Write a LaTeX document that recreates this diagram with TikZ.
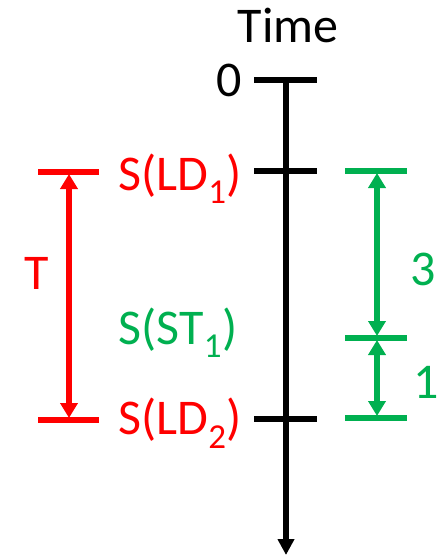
\documentclass[tikz,border=0pt]{standalone}
\usepackage{fontspec}
\setmainfont{Carlito}
\usetikzlibrary{arrows.meta}
\definecolor{myred}{RGB}{255,0,0}
\definecolor{mygreen}{RGB}{0,176,80}

\tikzset{
  lbl/.style={inner sep=0pt, anchor=base, font=\fontsize{50}{58}\selectfont},
  tickline/.style={line width=5.5pt},
  dimline/.style={line width=5.5pt, {Triangle[width=17pt,length=15pt]}-{Triangle[width=17pt,length=15pt]}, shorten <=2pt, shorten >=2pt},
}

\begin{document}
\begin{tikzpicture}[x=1pt,y=-1pt]
  \useasboundingbox (0,0) rectangle (440,556);

  % time axis
  \coordinate (top) at (286,80);
  \coordinate (bot) at (286,555);
  \draw[line width=5.5pt, -{Triangle[width=16pt,length=16pt]}] (top) -- (bot);
  \node[lbl] (time) at (288,43) {Time};

  % ticks on the axis
  \coordinate (t0l) at (254,80);  \coordinate (t0r) at (317,80);
  \coordinate (t1l) at (254,171); \coordinate (t1r) at (317,171);
  \coordinate (t2l) at (254,419); \coordinate (t2r) at (317,419);
  \draw[tickline] (t0l) -- (t0r);
  \draw[tickline] (t1l) -- (t1r);
  \draw[tickline] (t2l) -- (t2r);
  \node[lbl] (zero) at (229,97) {0};
  \node[lbl, text=myred] (ld1) at (180,190) {S(LD\textsubscript{1})};
  \node[lbl, text=mygreen] (st1) at (178,344) {S(ST\textsubscript{1})};
  \node[lbl, text=myred] (ld2) at (180,434) {S(LD\textsubscript{2})};

  % period T
  \coordinate (ra) at (69,172);  \coordinate (ral) at (38,172); \coordinate (rar) at (99,172);
  \coordinate (rb) at (69,420);  \coordinate (rbl) at (38,420); \coordinate (rbr) at (99,420);
  \draw[tickline, myred] (ral) -- (rar);
  \draw[tickline, myred] (rbl) -- (rbr);
  \draw[dimline, myred] (ra) -- (rb);
  \node[lbl, text=myred] (per) at (37,289) {T};

  % split 3 + 1
  \coordinate (ga) at (377,171); \coordinate (gal) at (345,171); \coordinate (gar) at (407,171);
  \coordinate (gb) at (377,338); \coordinate (gbl) at (345,338); \coordinate (gbr) at (407,338);
  \coordinate (gc) at (377,418); \coordinate (gcl) at (345,418); \coordinate (gcr) at (407,418);
  \draw[tickline, mygreen] (gal) -- (gar);
  \draw[tickline, mygreen] (gbl) -- (gbr);
  \draw[tickline, mygreen] (gcl) -- (gcr);
  \draw[dimline, mygreen] (ga) -- (gb);
  \draw[dimline, mygreen] (gb) -- (gc);
  \node[lbl, text=mygreen] (three) at (423,285) {3};
  \node[lbl, text=mygreen] (one) at (426,398) {1};
\end{tikzpicture}
\end{document}
